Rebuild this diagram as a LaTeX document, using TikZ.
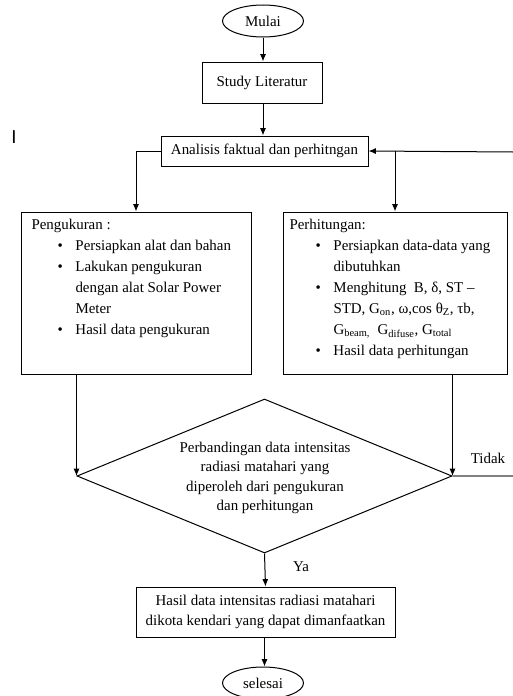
\documentclass[tikz,border=0pt]{standalone}
\usepackage{fontspec}
\setmainfont{Liberation Serif}
\newfontfamily\arialf{Liberation Sans}
\usetikzlibrary{shapes.geometric,arrows.meta}
\newcommand\itm[1]{\makebox[33pt][l]{\hspace{19.5pt}\textbullet}#1}
\newcommand\cnt[1]{\makebox[33pt]{}#1}
\begin{document}
\begin{tikzpicture}[x=0.75pt,y=-0.75pt,
  font=\fontsize{11.2}{15.8}\selectfont,
  line width=0.75pt,
  box/.style={draw,rectangle,inner sep=0pt},
  term/.style={draw,ellipse,inner sep=0pt,minimum width=60.75pt,minimum height=24pt},
  arr/.style={-{Latex[length=5.5pt,width=4.5pt]}},
  txt/.style={inner sep=0pt,align=left,anchor=north west}]
\useasboundingbox (0,0) rectangle (513,696);
\node[font=\arialf\fontsize{14}{16}\selectfont] (mark) at (14,137) {I};
\node[term] (mulai) at (263,21) {Mulai};
\node[box,minimum width=90pt,minimum height=30.75pt] (study) at (262,82.5) {Study Literatur};
\node[box,minimum width=155.25pt,minimum height=22.5pt] (anal) at (264.5,151) {Analisis faktual dan perhitngan};
\node[box,minimum width=172.5pt,minimum height=121.5pt] (lbox) at (136,293) {};
\node[box,minimum width=168pt,minimum height=121.5pt] (rbox) at (395,293) {};
\node[txt] (ltext) at (31,218.5) {Pengukuran :\\
\itm{Persiapkan alat dan bahan}\\
\itm{Lakukan pengukuran}\\
\cnt{dengan alat Solar Power}\\
\cnt{Meter}\\
\itm{Hasil data pengukuran}};
\node[txt] (rtext) at (289,218.5) {Perhitungan:\\
\itm{Persiapkan data-data yang}\\
\cnt{dibutuhkan}\\
\itm{Menghitung\ \ B, δ, ST –}\\
\cnt{STD, G\textsubscript{on}, ω,cos θ\textsubscript{Z}, τb,}\\
\cnt{G\textsubscript{beam,}\ \ G\textsubscript{difuse}, G\textsubscript{total}}\\
\itm{Hasil data perhitungan}};
\node[draw,diamond,inner sep=0pt,minimum width=281.25pt,minimum height=115.5pt] (dia) at (264.5,476) {};
\node[align=center,inner sep=0pt,font=\fontsize{11.2}{14.6}\selectfont] (diatext) at (265,478) {Perbandingan data intensitas\\radiasi matahari yang\\diperoleh dari pengukuran\\dan perhitungan};
\node[box,minimum width=194.25pt,minimum height=37.5pt,align=center,font=\fontsize{11.2}{14.4}\selectfont] (hasil) at (265.5,612) {Hasil data intensitas radiasi matahari\\dikota kendari yang dapat dimanfaatkan};
\node[term] (selesai) at (263,683) {selesai};
\node (ya) at (301,567) {Ya};
\node (tidak) at (488,458) {Tidak};
\coordinate (tR) at (513,476);
\coordinate (tT) at (513,152);
\draw[arr] (mulai.south) -- (mulai.south |- study.north);
\draw[arr] (mulai.south |- study.south) -- (mulai.south |- anal.north);
\draw[arr] (tT) -- (anal.east);
\draw[arr] (anal.east -| rbox.north) -- (rbox.north);
\draw[arr] (anal.west) -| (lbox.north);
\draw[arr] (lbox.south -| dia.west) -- (dia.west);
\draw[arr] (rbox.south -| dia.east) -- (dia.east);
\draw[gray,line width=1.2pt] (dia.east) -- (tR);
\draw[arr] (dia.south) -- (hasil.north);
\draw[arr] (hasil.south -| dia.south) -- (selesai.north -| dia.south);
\end{tikzpicture}
\end{document}
